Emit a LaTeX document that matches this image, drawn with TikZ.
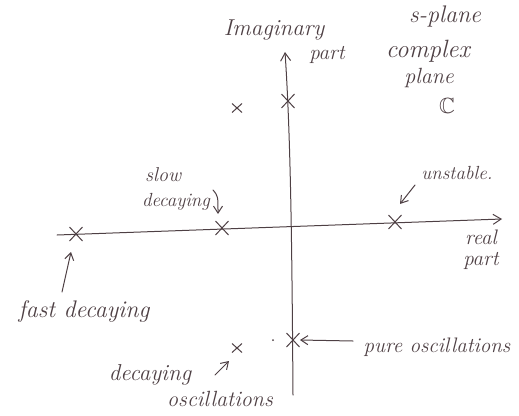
\documentclass[tikz,border=0pt]{standalone}
\usetikzlibrary{arrows.meta,shapes.misc,calc}
\definecolor{ink}{HTML}{4E4044}
\begin{document}
\begin{tikzpicture}[x=1pt,y=-1pt,
  ink line/.style={draw=ink, line width=1pt, line cap=round},
  axis/.style={ink line, -{Straight Barb[length=8pt,width=10pt]}},
  pointer/.style={ink line, -{Straight Barb[length=7pt,width=9pt]}},
  xmark/.style={cross out, draw=ink, line width=1pt, minimum width=12pt, minimum height=13pt, inner sep=0pt},
  smallx/.style={xmark, minimum width=9pt, minimum height=8pt},
  hand/.style={text=ink, font=\itshape\fontsize{#1}{#1}\selectfont, inner sep=0pt},
  hand/.default=21]
\useasboundingbox (0,0) rectangle (519,415);
% axes
\coordinate (xl) at (57,235);
\coordinate (xr) at (502,219);
\coordinate (yb) at (293,395);
\coordinate (yt) at (285,52);
\draw[axis] (xl) -- (xr);
\draw[axis] (yb) .. controls (292,260) and (291,140) .. (yt);
% poles
\node[xmark] (fast) at (76,234) {};
\node[xmark] (slow) at (222,228) {};
\node[xmark] (unst) at (395,222) {};
\node[xmark] (imag) at (288,101) {};
\node[smallx] (ul) at (237,108) {};
\node[smallx] (dosc) at (237,348) {};
\node[xmark] (posc) at (293,340) {};
\fill[ink] (273,340) circle (1pt);
% labels
\node[hand=23] (imlab) at (274,30) {Imaginary};
\node[hand=21] (ptlab) at (327,55) {part};
\node[hand=24] (spl) at (445,17) {s-plane};
\node[hand=25] (cpx) at (428,51) {complex};
\node[hand=22] (pln) at (429,78) {plane};
\node[text=ink, inner sep=0pt, font=\fontsize{22}{22}\selectfont\usefont{U}{msb}{m}{n}] (cc) at (447,106) {C};
\node[hand=20] (slab1) at (163,175) {slow};
\node[hand=19] (slab2) at (176,202) {decaying};
\node[hand=19] (ulab) at (457,173) {unstable.};
\node[hand=21] (rlab1) at (481,237) {real};
\node[hand=21] (rlab2) at (481,261) {part};
\node[hand=24] (flab) at (84,311) {fast decaying};
\node[hand=21] (plab) at (437,347) {pure oscillations};
\node[hand=23] (dlab1) at (150,375) {decaying};
\node[hand=22] (dlab2) at (220,399) {oscillations};
% pointers
\coordinate (fs) at (62,292);
\coordinate (ss) at (213,190);
\coordinate (us) at (415,185);
\coordinate (ps) at (353,341);
\coordinate (ds) at (215,375);
\draw[pointer] (fs) -- ($(fast)+(-5,18)$);
\draw[pointer] (ss) .. controls (218,196) .. ($(slow)+(-4,-14)$);
\draw[pointer] (us) -- ($(unst)+(5,-18)$);
\draw[pointer] (ps) -- ($(posc)+(7,0)$);
\draw[pointer] (ds) -- ($(dosc)+(-8,13)$);
\end{tikzpicture}
\end{document}
